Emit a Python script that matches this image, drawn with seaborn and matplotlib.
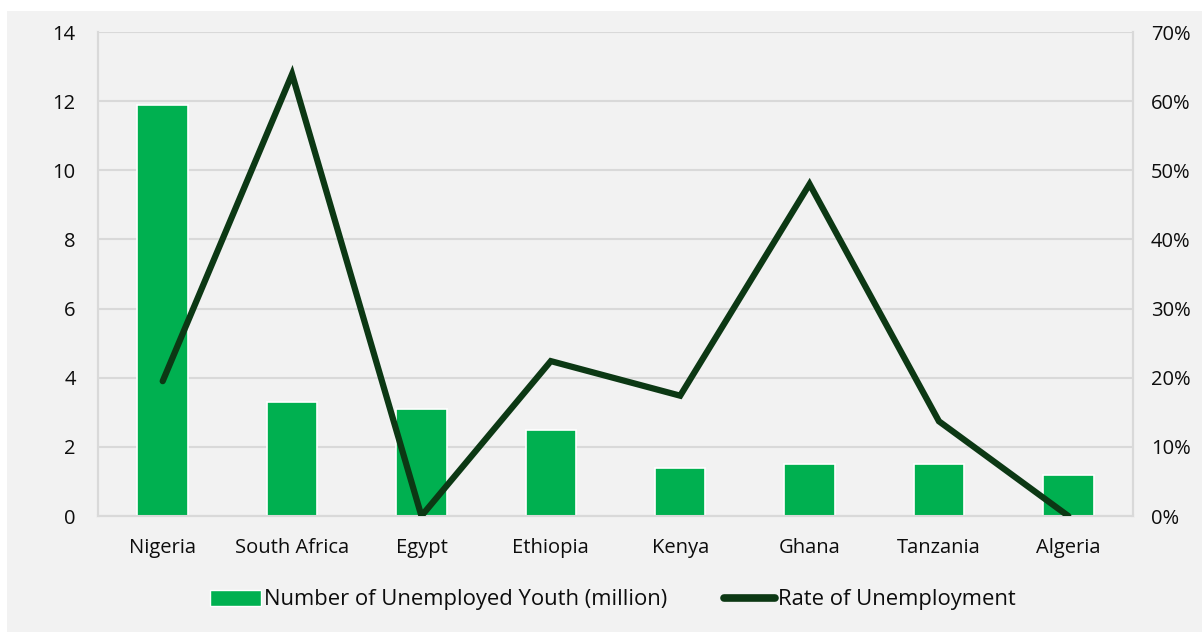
import numpy as np
import pandas as pd
import seaborn as sns
import matplotlib.pyplot as plt
from matplotlib.patches import Rectangle, Patch
from matplotlib.lines import Line2D
from matplotlib.ticker import FuncFormatter

countries = ["Nigeria", "South Africa", "Egypt", "Ethiopia", "Kenya", "Ghana", "Tanzania", "Algeria"]
unemployed_youth = [11.9, 3.3, 3.1, 2.5, 1.4, 1.5, 1.5, 1.2]
unemployment_rate = [19.5, 63.9, 0.0, 22.4, 17.4, 48.0, 13.7, 0.0]

bar_label = "Number of Unemployed Youth (million)"
line_label = "Rate of Unemployment"

bar_color = "#00b050"
line_color = "#0c3814"
panel_color = "#f2f2f2"
grid_color = "#d9d9d9"

sns.set_style("white")
plt.rcParams['font.family'] = ['Open Sans', 'DejaVu Sans']

df = pd.DataFrame({"country": countries, "youth": unemployed_youth, "rate": unemployment_rate})

fig = plt.figure(figsize=(12.02, 6.32), dpi=100)
fig.patch.set_facecolor("white")
fig.patches.append(Rectangle((7 / 1202, 0), 1 - 7 / 1202, 1 - 11 / 632, transform=fig.transFigure,
                             facecolor=panel_color, edgecolor="none", zorder=-10))

ax = fig.add_axes([98 / 1202, 1 - 516 / 632, (1133 - 98) / 1202, (516 - 32) / 632])
ax.set_facecolor("none")

sns.barplot(data=df, x="country", y="youth", color=bar_color, width=0.39,
            edgecolor="white", linewidth=1.2, saturation=1, ax=ax, zorder=3)
ax.set_ylim(0, 14)
ax.set_yticks(range(0, 15, 2))
ax.set_xlim(-0.5, len(countries) - 0.5)
ax.yaxis.grid(True, color=grid_color, linewidth=1.5, zorder=0)
ax.set_axisbelow(True)
ax.set_xlabel("")
ax.set_ylabel("")

ax2 = ax.twinx()
sns.lineplot(x=np.arange(len(countries)), y=df["rate"], color=line_color, linewidth=4.5,
             ax=ax2, solid_capstyle="round", solid_joinstyle="miter", zorder=4)
ax2.set_ylim(0, 70)
ax2.set_yticks(range(0, 71, 10))
ax2.yaxis.set_major_formatter(FuncFormatter(lambda v, p: f"{v:.0f}%"))
ax2.set_ylabel("")
ax2.set_xlim(-0.5, len(countries) - 0.5)

for a in (ax, ax2):
    a.spines["top"].set_visible(False)
    for side in ("left", "right", "bottom"):
        a.spines[side].set_color(grid_color)
        a.spines[side].set_linewidth(1.5)
    a.tick_params(length=0, labelsize=14.5, colors="#0d0d0d")
ax.tick_params(axis="x", pad=16)
ax.tick_params(axis="y", pad=16)
ax2.tick_params(axis="y", pad=13)

handles = [Patch(facecolor=bar_color, edgecolor="white", label=bar_label),
           Line2D([0], [0], color=line_color, linewidth=5.5, solid_capstyle="round", label=line_label)]
fig.legend(handles=handles, loc="center", bbox_to_anchor=(613 / 1202, 1 - 600 / 632), ncol=2,
           frameon=False, handlelength=2.3, handleheight=0.75, handletextpad=0.15, columnspacing=2.6,
           prop={"family": "Open Sans", "size": 15.8}, labelcolor="#0d0d0d")

fig.savefig("out.png", dpi=100, facecolor=fig.get_facecolor())
